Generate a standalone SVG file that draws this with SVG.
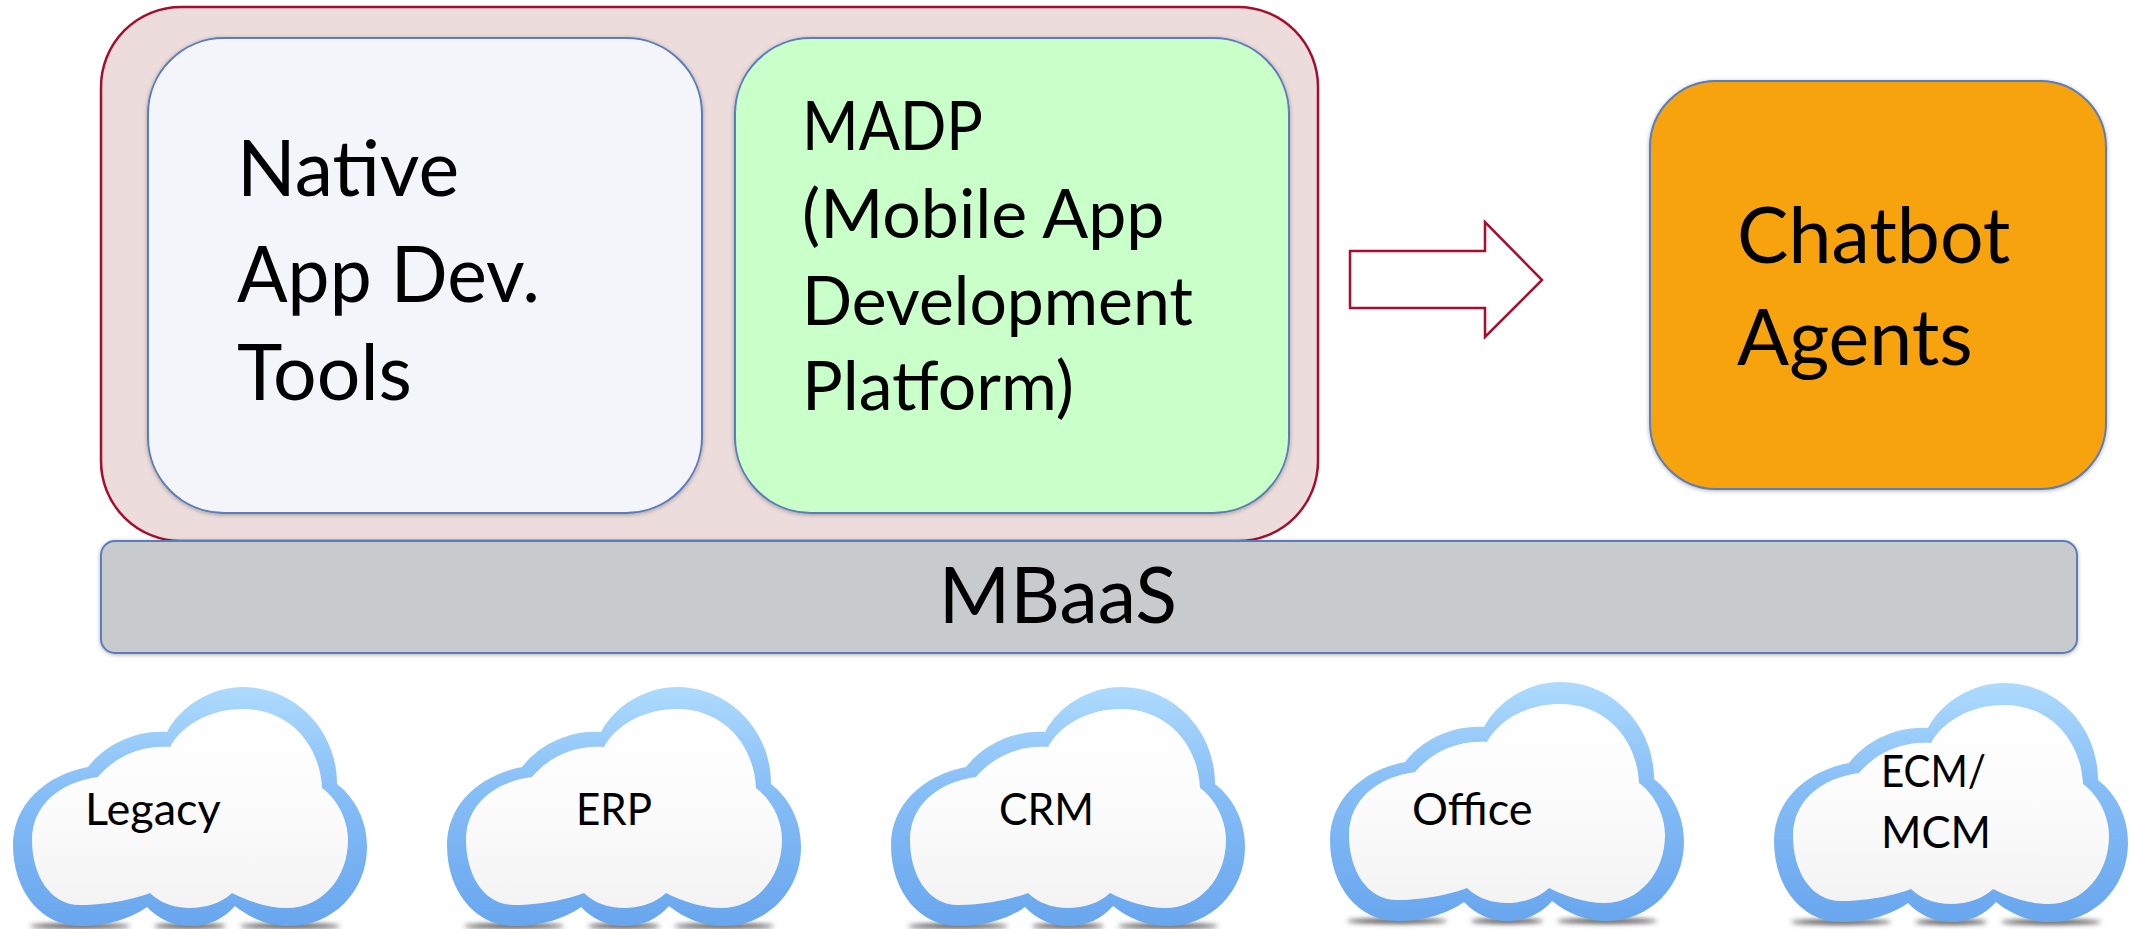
<svg xmlns="http://www.w3.org/2000/svg" width="2131" height="929" viewBox="0 0 2131 929">
<style>
text{font-family:"Lato","Open Sans","Liberation Sans",sans-serif;fill:#000}
.big{font-size:77px}
.mid{font-size:68px}
.sm{font-size:45px}
.in{stroke:#5b7cba;stroke-width:2}
</style>
<defs>
<linearGradient id="rim" x1="0" y1="0" x2="0" y2="1"><stop offset="0" stop-color="#aedbfd"/><stop offset=".45" stop-color="#85bdf6"/><stop offset="1" stop-color="#68a6ee"/></linearGradient>
<linearGradient id="face" x1="0" y1="0" x2="0" y2="1"><stop offset="0" stop-color="#fff"/><stop offset=".55" stop-color="#fbfbfb"/><stop offset="1" stop-color="#f3f3f3"/></linearGradient>
<filter id="b" x="-20%" y="-300%" width="140%" height="700%"><feGaussianBlur stdDeviation="2.5"/></filter>
<filter id="s" x="-5%" y="-5%" width="110%" height="110%"><feDropShadow dx="0" dy="1" stdDeviation="2" flood-color="#000" flood-opacity=".3"/></filter>
<g id="cloud">
<ellipse cx="80" cy="266" rx="50" ry="2.5" fill="#444" filter="url(#b)"/>
<ellipse cx="190" cy="266" rx="36" ry="2.5" fill="#444" filter="url(#b)"/>
<ellipse cx="290" cy="266" rx="50" ry="2.5" fill="#444" filter="url(#b)"/>
<path fill="url(#rim)" d="M88 107C45 115 13 145 13 185C13 232 42 266 80 266C108 266 132 258 147 247C158 259 174 266 190 266C208 266 224 259 235 246C250 258 268 266 290 266C332 266 367 232 367 187C367 160 355 138 337 124C337 70 295 27 243 27C210 27 180 47 167 72C135 70 105 85 88 107Z"/>
<path fill="url(#face)" d="M98 117C60 122 32 145 32 180C32 215 50 245 80 245C110 245 137 238 150 233C160 243 175 248 190 248C205 248 222 243 232 233C248 241 268 248 287 248C322 248 348 218 348 180C348 160 338 140 322 128C320 85 290 49 243 49C210 49 182 65 170 87C140 85 115 97 98 117Z"/>
</g>
</defs>
<rect width="2131" height="929" fill="#fff"/>
<g id="platform-group"><rect x="101" y="7" width="1217" height="534" rx="80" fill="#ecdcdc" stroke="#a80d2d" stroke-width="2.5"/></g>
<g id="native"><rect class="in" x="148" y="38" width="554" height="475" rx="76" fill="#f4f5fb" filter="url(#s)"/>
<text class="big" x="237" y="196">Native</text><text class="big" x="237" y="302" textLength="303" lengthAdjust="spacingAndGlyphs">App Dev.</text><text class="big" x="237" y="400">Tools</text></g>
<g id="madp"><rect class="in" x="735" y="38" width="554" height="475" rx="76" fill="#c9ffc9" filter="url(#s)"/>
<text class="mid" x="802" y="150" textLength="181" lengthAdjust="spacingAndGlyphs">MADP</text><text class="mid" x="802" y="238">(Mobile App</text><text class="mid" x="802" y="325" textLength="391" lengthAdjust="spacingAndGlyphs">Development</text><text class="mid" x="802" y="410">Platform)</text></g>
<g id="chatbot"><rect class="in" x="1650" y="81" width="456" height="408" rx="66" fill="#f7a30c" filter="url(#s)"/>
<text class="big" x="1737" y="263">Chatbot</text><text class="big" x="1737" y="365">Agents</text></g>
<g id="mbaas"><rect class="in" x="101" y="541" width="1976" height="112" rx="14" fill="#c8cbce" filter="url(#s)"/>
<text class="big" x="1058" y="623" text-anchor="middle">MBaaS</text></g>
<g id="connectors"><path d="M1350 251H1485V222L1542 280L1485 337V308H1350Z" fill="#fff" stroke="#a80d2d" stroke-width="2.5"/></g>
<g id="legacy"><use href="#cloud" x="0" y="660"/><text class="sm" x="85" y="825">Legacy</text></g>
<g id="erp"><use href="#cloud" x="434" y="660"/><text class="sm" x="576" y="825" textLength="76" lengthAdjust="spacingAndGlyphs">ERP</text></g>
<g id="crm"><use href="#cloud" x="878" y="660"/><text class="sm" x="999" y="825" textLength="95" lengthAdjust="spacingAndGlyphs">CRM</text></g>
<g id="office"><use href="#cloud" x="1317" y="655"/><text class="sm" x="1412" y="825">Office</text></g>
<g id="ecm"><use href="#cloud" x="1761" y="656"/><text class="sm" x="1881" y="787" textLength="105" lengthAdjust="spacingAndGlyphs">ECM/</text><text class="sm" x="1881" y="848" textLength="110" lengthAdjust="spacingAndGlyphs">MCM</text></g>
</svg>
